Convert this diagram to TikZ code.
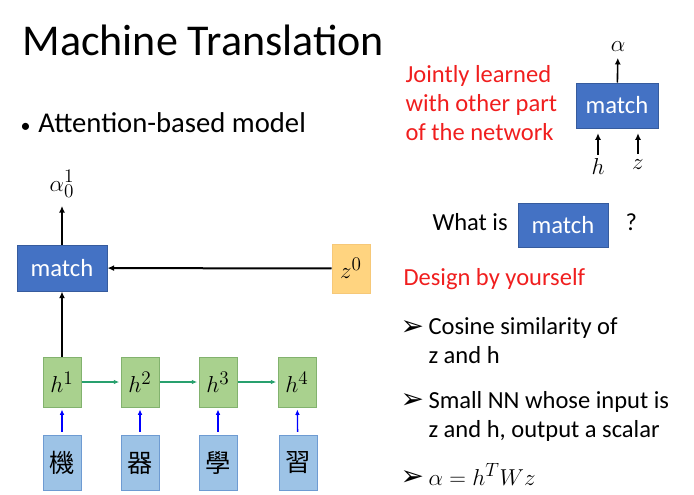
\documentclass[tikz,border=0pt]{standalone}
\usepackage{fontspec}
\setmainfont{Carlito}
\newfontfamily\cjkfont{Noto Sans CJK TC}
\newfontfamily\dingfont{DejaVu Sans}
\usetikzlibrary{arrows.meta}

\definecolor{matchblue}{RGB}{68,114,196}
\definecolor{zfill}{RGB}{255,212,128}
\definecolor{zdraw}{RGB}{246,200,120}
\definecolor{hfill}{RGB}{169,209,142}
\definecolor{hdraw}{RGB}{130,178,110}
\definecolor{wfill}{RGB}{157,195,230}
\definecolor{wdraw}{RGB}{110,155,210}
\definecolor{steparrow}{RGB}{40,160,110}
\definecolor{slidered}{RGB}{240,30,30}

\tikzset{every picture/.style={line width=0.75pt}}
\tikzset{
  matchbox/.style={draw=matchblue!80!black, fill=matchblue, text=white, inner sep=0pt,
    font=\fontsize{18.5}{18.5}\selectfont},
  hbox/.style={draw=hdraw, fill=hfill, inner sep=0pt, minimum width=28.5pt, minimum height=37.5pt,
    font=\fontsize{19}{19}\selectfont},
  wordbox/.style={draw=wdraw, fill=wfill, inner sep=0pt, minimum width=28.5pt, minimum height=41pt,
    font=\cjkfont\fontsize{19}{19}\selectfont},
  arr/.style={-{Latex[length=5pt,width=4.5pt]}, line width=1.5pt},
  garr/.style={-{Latex[length=4pt,width=3.5pt]}, line width=1pt, draw=steparrow, shorten >=1pt},
  barr/.style={-{Latex[length=4pt,width=3.5pt]}, line width=1pt, draw=blue, shorten <=2.5pt, shorten >=1.5pt},
  bodytext/.style={anchor=base west, inner sep=0pt, font=\fontsize{18.4}{21.75}\selectfont, align=left},
  tipmark/.style={anchor=base west, inner sep=0pt, font=\dingfont\fontsize{21}{21}\selectfont},
  label/.style={inner sep=1pt, font=\fontsize{19}{19}\selectfont},
}

\begin{document}
\begin{tikzpicture}[x=0.75pt,y=0.75pt,yscale=-1,xscale=1]
	\useasboundingbox (0,0) rectangle (694,494);

	% Text Node
	\node[anchor=base west, inner sep=0pt, font=\fontsize{33}{33}\selectfont] (title) at (22,55) {Machine Translation};
	% Text Node
	\node[anchor=base west, inner sep=0pt, font=\fontsize{21.5}{21.5}\selectfont] (bullet) at (20,132) {{\fontsize{15}{15}\selectfont •}\hspace{6pt}Attention-based model};

	%Shape: Rectangle [id:match]
	\node[matchbox, minimum width=67.5pt, minimum height=34.5pt] (match) at (62,268) {match};
	%Shape: Rectangle [id:z0]
	\node[draw=zdraw, fill=zfill, inner sep=0pt, minimum width=28.5pt, minimum height=36.75pt, font=\fontsize{19}{19}\selectfont] (z0) at (351,268.5) {$z^0$};
	% Text Node
	\node[label] (alpha01) at (62,184) {$\alpha_0^1$};

	%Shape: Rectangle [id:h1..h4]
	\node[hbox] (h1) at (62,382) {$h^1$};
	\node[hbox] (h2) at (140,382) {$h^2$};
	\node[hbox] (h3) at (218,382) {$h^3$};
	\node[hbox] (h4) at (297,382) {$h^4$};
	%Shape: Rectangle [id:words]
	\node[wordbox] (w1) at (62,463) {機};
	\node[wordbox] (w2) at (140,463) {器};
	\node[wordbox] (w3) at (218,463) {學};
	\node[wordbox] (w4) at (298,463) {習};

	%Straight Lines [id:attention]
	\draw[arr, shorten >=5pt] (match) -- (alpha01);
	\draw[arr] (z0) -- (match);
	\draw[arr] (h1) -- (match);
	%Straight Lines [id:recurrence]
	\draw[garr] (h1) -- (h2);
	\draw[garr] (h2) -- (h3);
	\draw[garr] (h3) -- (h4);
	%Straight Lines [id:inputs]
	\draw[barr] (w1) -- (h1);
	\draw[barr] (w2) -- (h2);
	\draw[barr] (w3) -- (h3);
	\draw[barr] (w4) -- (h4);

	% Text Node
	\node[bodytext, text=slidered] (jointly) at (405,140) {Jointly learned\\with other part\\of the network};

	%Shape: Rectangle [id:smallmatch]
	\node[matchbox, minimum width=61.5pt, minimum height=33.75pt] (smatch) at (617,105.5) {match};
	% Text Node
	\node[label, font=\fontsize{17}{17}\selectfont] (alpha) at (618,47) {$\alpha$};
	\node[label, font=\fontsize{17}{17}\selectfont] (hin) at (598,166) {$h$};
	\node[label, font=\fontsize{17}{17}\selectfont] (zin) at (638,165) {$z$};
	\draw[arr, line width=1.2pt, shorten >=3pt] (smatch) -- (alpha);
	\draw[arr, line width=1.2pt, shorten <=1pt, shorten >=3.5pt] (hin) -- (hin |- smatch.south);
	\draw[arr, line width=1.2pt, shorten <=3pt, shorten >=3.5pt] (zin) -- (zin |- smatch.south);

	% Text Node
	\node[bodytext] (whatis) at (432,230) {What is};
	\node[matchbox, minimum width=67.5pt, minimum height=33pt] (qmatch) at (563,225) {match};
	\node[bodytext] (qmark) at (625,230) {?};
	% Text Node
	\node[bodytext, text=slidered] (design) at (403,285) {Design by yourself};
	% Text Node
	\node[tipmark] (tip1) at (400,335) {➢};
	\node[bodytext] (cosine) at (428,363) {Cosine similarity of\\z and h};
	\node[tipmark] (tip2) at (400,408) {➢};
	\node[bodytext] (smallnn) at (428,437) {Small NN whose input is\\z and h, output a scalar};
	\node[tipmark] (tip3) at (400,485) {➢};
	\node[bodytext, font=\fontsize{19}{19}\selectfont] (bilinear) at (428,485) {$\alpha=h^TWz$};

\end{tikzpicture}
\end{document}
